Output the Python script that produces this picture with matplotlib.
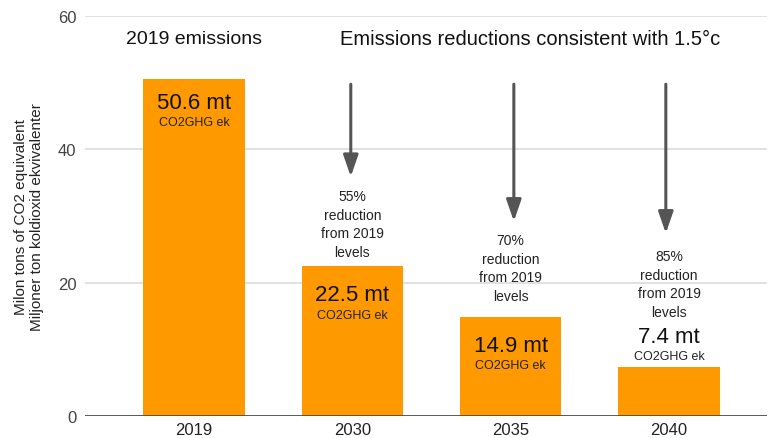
import numpy as np
import matplotlib.pyplot as plt

plt.rcParams["font.family"] = ["Liberation Sans", "DejaVu Sans"]

years = ["2019", "2030", "2035", "2040"]
emissions = [50.6, 22.5, 14.9, 7.4]
value_labels = ["50.6 mt", "22.5 mt", "14.9 mt", "7.4 mt"]
reductions = ["", "55%\nreduction\nfrom 2019\nlevels", "70%\nreduction\nfrom 2019\nlevels",
              "85%\nreduction\nfrom 2019\nlevels"]
reduction_y = [0, 28.8, 22.2, 19.8]
arrow_x = [0, -0.01, 0.02, -0.02]
arrow_end = [0, 35.5, 28.8, 27.0]

fig = plt.figure(figsize=(7.71, 4.39), dpi=100)
ax = fig.add_axes([0.110, 0.050, 0.885, 0.911])

x = np.arange(len(years))
ax.bar(x, emissions, width=0.64, color="#ff9900", zorder=2)

ax.set_ylim(0, 60)
ax.set_xlim(-0.69, 3.62)
ax.set_yticks([0, 20, 40, 60])
ax.yaxis.grid(True, color="#dcdcdc", lw=1.2, zorder=0)
ax.axhline(0, color="#444444", lw=1.2, zorder=3)
for s in ax.spines.values():
    s.set_visible(False)
ax.tick_params(length=0)
ax.tick_params(axis="y", labelsize=12, colors="#444444", pad=6)
ax.set_xticks(x)
ax.set_xticklabels(years, fontsize=12, color="#222222")
ax.tick_params(axis="x", pad=4)

ax.set_ylabel("Milon tons of CO2 equivalent\nMiljoner ton koldioxid ekvivalenter",
              fontsize=11, color="#222222", labelpad=10)

for i, v in enumerate(emissions):
    if i == 3:
        top = v + 4.6
    elif i == 0:
        top = v - 3.5
    else:
        top = v - 4.3
    ax.text(i, top, value_labels[i], ha="center", va="center", fontsize=16, color="#111111", zorder=4)
    ax.text(i, top - 3.0, "CO2GHG ek", ha="center", va="center", fontsize=9, color="#222222", zorder=4)
    if reductions[i]:
        ax.text(i, reduction_y[i], reductions[i], ha="center", va="center", fontsize=10,
                color="#222222", linespacing=1.4, zorder=4)
        ax.annotate("", xy=(i + arrow_x[i], arrow_end[i]), xytext=(i + arrow_x[i], 50.2),
                    arrowprops=dict(arrowstyle="-|>,head_width=0.45,head_length=1.3",
                                    color="#555555", lw=2.2))

ax.text(0, 56.7, "2019 emissions", ha="center", va="center", fontsize=14, color="#111111")
ax.text(2.12, 56.7, "Emissions reductions consistent with 1.5°c", ha="center", va="center",
        fontsize=14.5, color="#111111")

fig.savefig("out.png", dpi=100)
